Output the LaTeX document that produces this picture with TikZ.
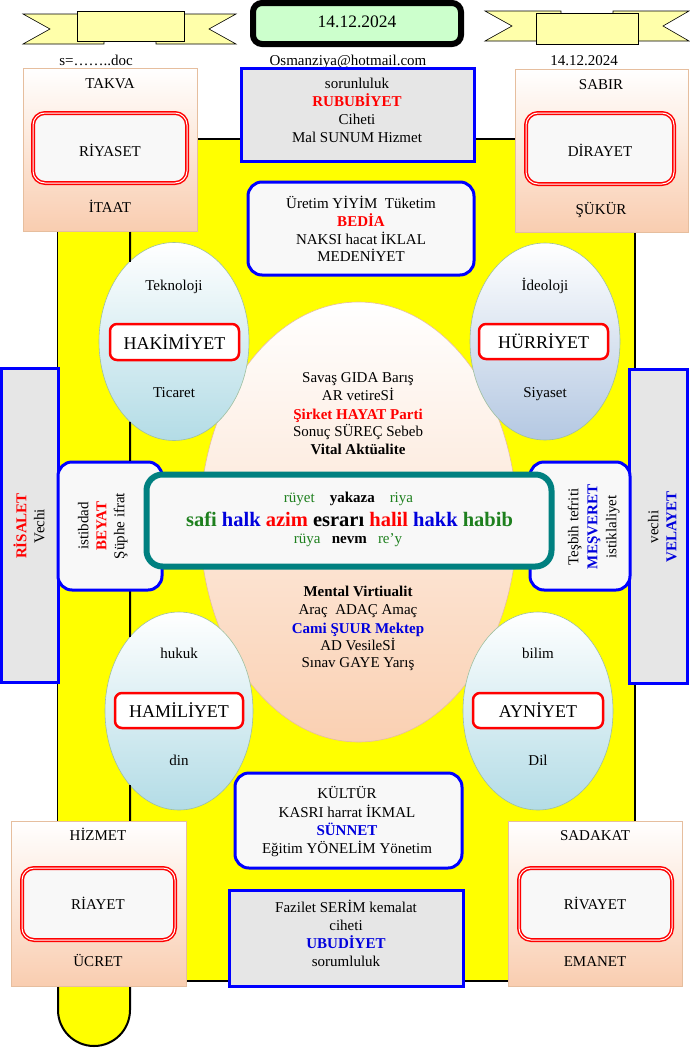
\documentclass[tikz,border=0pt]{standalone}
\usepackage{fontspec}
\setmainfont{Liberation Serif}
\usetikzlibrary{shapes.geometric}
\definecolor{bannery}{HTML}{FFFFAA}
\definecolor{dategreen}{HTML}{CCFFCC}
\definecolor{boxgray}{HTML}{E6E6E6}
\definecolor{boxwhite}{HTML}{F8F8F8}
\definecolor{peach}{HTML}{F9CDB0}
\definecolor{bigpeach}{HTML}{FAD0B2}
\definecolor{peachline}{HTML}{E6BE9E}
\definecolor{ellblue}{HTML}{B3DCE6}
\definecolor{ellblueb}{HTML}{B4C8E2}
\definecolor{ellline}{HTML}{9FBF9F}
\definecolor{tealc}{HTML}{008080}
\definecolor{txtgreen}{HTML}{1E801E}
\definecolor{txtblue}{HTML}{0000DD}
\definecolor{txtred}{HTML}{FF0000}
\definecolor{yel}{HTML}{FFFF00}
\tikzset{
  ln/.style={font=\fontsize{15}{18}\selectfont, text height=10.5pt, text depth=0pt, inner sep=0pt},
  lnbig/.style={font=\fontsize{18}{21}\selectfont, text height=12.6pt, text depth=0pt, inner sep=0pt},
  lnmain/.style={font=\fontsize{20.5}{24}\selectfont\bfseries, text height=14pt, text depth=0pt, inner sep=0pt},
  shp/.style={inner sep=0pt, outer sep=0pt},
  graybox/.style={shp, draw=blue, line width=3pt, fill=boxgray},
  whitebox/.style={shp, draw=blue, line width=3pt, fill=boxwhite, rounded corners=14pt},
  cornerbox/.style={shp, draw=peachline, line width=0.6pt, top color=white, bottom color=peach},
  redbox/.style={shp, draw=red, double=white, double distance=1pt, line width=1.5pt, fill=boxwhite, rounded corners=12pt},
  tagbox/.style={shp, draw=red, line width=2.5pt, fill=white, rounded corners=7pt},
  oval/.style={shp, ellipse, draw=ellline, line width=0.6pt, top color=white},
  banner/.style={draw=black, line width=0.6pt, fill=bannery},
  sidebox/.style={shp, draw=blue, line width=3pt, fill=boxgray},
  stripline/.style={draw=black, line width=2pt},
}
\begin{document}
\begin{tikzpicture}[x=1pt,y=-1pt]
\useasboundingbox (0,0) rectangle (689,1052);
\fill[white] (0,0) rectangle (689,1052);

% yellow background and strip
\draw[fill=yel, line width=1.8pt] (58,139) rectangle (635,981);
\fill[yel] (58,150) -- (58,1010) arc[start angle=180, end angle=0, x radius=36, y radius=36] -- (130,150) -- cycle;
\draw[stripline] (58,981) -- (58,1010) arc[start angle=180, end angle=0, x radius=36, y radius=36] -- (130,150);

% banners
\draw[banner] (23,14) -- (50,29) -- (23,44) -- (104,44) -- (104,14) -- cycle;
\draw[banner] (236,14) -- (209,29) -- (236,44) -- (156,44) -- (156,14) -- cycle;
\node[shp, banner, minimum width=107pt, minimum height=30pt] (bannerL) at (130.5,26) {};
\draw[banner] (485,11) -- (512,26) -- (485,41) -- (561,41) -- (561,11) -- cycle;
\draw[banner] (689,11) -- (663,26) -- (689,41) -- (613,41) -- (613,11) -- cycle;
\node[shp, banner, minimum width=102pt, minimum height=31pt] (bannerR) at (587,28.5) {};

% date box
\node[shp, draw=black, line width=6pt, fill=dategreen, rounded corners=9pt, minimum width=208pt, minimum height=41pt] (datebox) at (357,23.5) {};
\node[ln, font=\fontsize{17.5}{20}\selectfont, text height=12.2pt] (datetxt) at (357,21) {14.12.2024};

\node[ln] (sdoc) at (96,60) {s=……..doc};
\node[ln] (mail) at (348,60) {Osmanziya@hotmail.com};
\node[ln] (date2) at (584,60) {14.12.2024};

% corner boxes top
\node[cornerbox, minimum width=174pt, minimum height=163pt] (takvabox) at (110,149.5) {};
\node[redbox, minimum width=154pt, minimum height=70pt] (riyasetbox) at (110,148) {};
\node[ln] (takva) at (110,83) {TAKVA};
\node[ln] (riyaset) at (110,151) {RİYASET};
\node[ln] (itaat) at (110,207) {İTAAT};

\node[cornerbox, minimum width=173pt, minimum height=163pt] (sabirbox) at (601.5,150.5) {};
\node[redbox, minimum width=148pt, minimum height=71pt] (dirayetbox) at (600,148.5) {};
\node[ln] (sabir) at (601,84) {SABIR};
\node[ln] (dirayet) at (600,151) {DİRAYET};
\node[ln] (sukur) at (601,209) {ŞÜKÜR};

% rububiyet box
\node[graybox, minimum width=233pt, minimum height=93pt] (rubbox) at (357.5,114.5) {};
\node[ln] (rub1) at (357,83) {sorunluluk};
\node[ln, text=txtred, font=\fontsize{15}{18}\selectfont\bfseries] (rub2) at (357,101) {RUBUBİYET};
\node[ln] (rub3) at (357,119) {Ciheti};
\node[ln] (rub4) at (357,137) {Mal SUNUM Hizmet};

% bedia box
\node[whitebox, minimum width=226pt, minimum height=93pt] (bedbox) at (361,228.5) {};
\node[ln] (bed1) at (361,203) {Üretim YİYİM\ \ Tüketim};
\node[ln, text=txtred, font=\fontsize{15}{18}\selectfont\bfseries] (bed2) at (361,221) {BEDİA};
\node[ln] (bed3) at (361,239) {NAKSI hacat İKLAL};
\node[ln] (bed4) at (361,256) {MEDENİYET};

% side boxes
\node[sidebox, minimum width=57pt, minimum height=314pt] (risbox) at (29.5,525) {};
\node[ln, rotate=90, text=txtred, font=\fontsize{15}{18}\selectfont\bfseries] (ris1) at (21,526) {RİSALET};
\node[ln, rotate=90] (ris2) at (39,526) {Vechi};
\node[sidebox, minimum width=58pt, minimum height=314pt] (velbox) at (658,526) {};
\node[ln, rotate=90] (vel1) at (653,527) {vechi};
\node[ln, rotate=90, text=txtblue, font=\fontsize{15}{18}\selectfont\bfseries] (vel2) at (671,527) {VELAYET};

% big ellipse
\node[shp, ellipse, draw=peachline, line width=0.6pt, top color=white, bottom color=bigpeach, minimum width=317pt, minimum height=440pt] (bigell) at (358.5,522) {};
\node[ln] (b1) at (358,377) {Savaş GIDA Barış};
\node[ln] (b2) at (358,395) {AR vetireSİ};
\node[ln, text=txtred, font=\fontsize{15}{18}\selectfont\bfseries] (b3) at (358,414) {Şirket HAYAT Parti};
\node[ln] (b4) at (358,431) {Sonuç SÜREÇ Sebeb};
\node[ln, font=\fontsize{15}{18}\selectfont\bfseries] (b5) at (358,449) {Vital Aktüalite};
\node[ln, font=\fontsize{15}{18}\selectfont\bfseries] (c1) at (358,591) {Mental Virtiualit};
\node[ln] (c2) at (358,609) {Araç\ \ ADAÇ Amaç};
\node[ln, text=txtblue, font=\fontsize{15}{18}\selectfont\bfseries] (c3) at (358,628) {Cami ŞUUR Mektep};
\node[ln] (c4) at (358,645) {AD VesileSİ};
\node[ln] (c5) at (358,662) {Sınav GAYE Yarış};

% small ellipses
\node[oval, bottom color=ellblue, minimum width=150pt, minimum height=198pt] (ellTL) at (174,341.5) {};
\node[tagbox, minimum width=129pt, minimum height=36pt] (hakbox) at (174.5,342) {};
\node[ln] (tek) at (174,285) {Teknoloji};
\node[lnbig] (hak) at (174.5,343) {HAKİMİYET};
\node[ln] (tic) at (174,392) {Ticaret};

\node[oval, bottom color=ellblueb, minimum width=150pt, minimum height=197pt] (ellTR) at (545,341.5) {};
\node[tagbox, minimum width=129pt, minimum height=35pt] (hurbox) at (543.5,341.5) {};
\node[ln] (ideo) at (545,285) {İdeoloji};
\node[lnbig] (hur) at (543.5,342.5) {HÜRRİYET};
\node[ln] (siy) at (545,392) {Siyaset};

\node[oval, bottom color=ellblue, minimum width=148pt, minimum height=198pt] (ellBL) at (179,711) {};
\node[tagbox, minimum width=128pt, minimum height=35pt] (hambox) at (179,710.5) {};
\node[ln] (huk) at (179,653) {hukuk};
\node[lnbig] (ham) at (179,711.5) {HAMİLİYET};
\node[ln] (din) at (179,760) {din};

\node[oval, bottom color=ellblue, minimum width=150pt, minimum height=198pt] (ellBR) at (538,711) {};
\node[tagbox, minimum width=130pt, minimum height=35pt] (aynbox) at (538,710.5) {};
\node[ln] (bil) at (538,653) {bilim};
\node[lnbig] (ayn) at (538,711.5) {AYNİYET};
\node[ln] (dil) at (538,760) {Dil};

% beyat / mesveret
\node[whitebox, minimum width=104pt, minimum height=128pt] (beybox) at (110,526) {};
\node[ln, rotate=90] (bey1) at (83,526) {istibdad};
\node[ln, rotate=90, text=txtred, font=\fontsize{15}{18}\selectfont\bfseries] (bey2) at (101,526) {BEYAT};
\node[ln, rotate=90] (bey3) at (119,526) {Şüphe ifrat};
\node[whitebox, minimum width=100pt, minimum height=128pt] (mesbox) at (580,526) {};
\node[ln, rotate=90] (mes1) at (573,527) {Teşbih tefriti};
\node[ln, rotate=90, text=txtblue, font=\fontsize{15}{18}\selectfont\bfseries] (mes2) at (592,527) {MEŞVERET};
\node[ln, rotate=90] (mes3) at (611,527) {istiklaliyet};

% central teal box
\node[shp, draw=tealc, line width=6pt, fill=boxwhite, rounded corners=16pt, minimum width=405pt, minimum height=92pt] (tealbox) at (349,520.5) {};
\node[ln] (t1) at (348.5,497) {\textcolor{txtgreen}{rüyet}\hspace{1em}\textbf{yakaza}\hspace{1em}\textcolor{txtgreen}{riya}};
\node[lnmain] (t2) at (349.5,519) {\textcolor{txtgreen}{safi} \textcolor{txtblue}{halk} \textcolor{txtred}{azim} esrarı \textcolor{txtred}{halil} \textcolor{txtblue}{hakk} \textcolor{txtgreen}{habib}};
\node[ln] (t3) at (348,538) {\textcolor{txtgreen}{rüya}\hspace{0.75em}\textbf{nevm}\hspace{0.75em}\textcolor{txtgreen}{re’y}};

% kultur box
\node[whitebox, minimum width=227pt, minimum height=95pt] (kulbox) at (348.5,820.5) {};
\node[ln] (k1) at (347,793) {KÜLTÜR};
\node[ln] (k2) at (347,812) {KASRI harrat İKMAL};
\node[ln, text=txtblue, font=\fontsize{15}{18}\selectfont\bfseries] (k3) at (347,830) {SÜNNET};
\node[ln] (k4) at (347,848) {Eğitim YÖNELİM Yönetim};

% fazilet box
\node[graybox, minimum width=234pt, minimum height=96pt] (fazbox) at (346,938) {};
\node[ln] (f1) at (346,907) {Fazilet SERİM kemalat};
\node[ln] (f2) at (346,925) {ciheti};
\node[ln, text=txtblue, font=\fontsize{15}{18}\selectfont\bfseries] (f3) at (346,943) {UBUDİYET};
\node[ln] (f4) at (346,961) {sorumluluk};

% corner boxes bottom
\node[cornerbox, minimum width=175pt, minimum height=165pt] (hizbox) at (98.5,903.5) {};
\node[redbox, minimum width=153pt, minimum height=72pt] (riabox) at (98.5,904) {};
\node[ln] (hiz) at (98,835) {HİZMET};
\node[ln] (ria) at (98,904) {RİAYET};
\node[ln] (ucr) at (98,961) {ÜCRET};

\node[cornerbox, minimum width=174pt, minimum height=165pt] (sadbox) at (595,903.5) {};
\node[redbox, minimum width=153pt, minimum height=72pt] (rivbox) at (595.5,904) {};
\node[ln] (sad) at (595,835) {SADAKAT};
\node[ln] (riv) at (595,904) {RİVAYET};
\node[ln] (ema) at (595,961) {EMANET};

% visible parts of the strip's inner edge, between the shapes
\coordinate (sA1) at (130,231.5);
\coordinate (sA2) at (130,261.5);
\coordinate (sB1) at (130,421.5);
\coordinate (sB2) at (130,460.5);
\coordinate (sC1) at (130,591.5);
\coordinate (sC2) at (130,637);
\coordinate (sD1) at (130,785);
\coordinate (sD2) at (130,820.5);
\draw[stripline] (sA1) -- (sA2);
\draw[stripline] (sB1) -- (sB2);
\draw[stripline] (sC1) -- (sC2);
\draw[stripline] (sD1) -- (sD2);
\end{tikzpicture}
\end{document}
